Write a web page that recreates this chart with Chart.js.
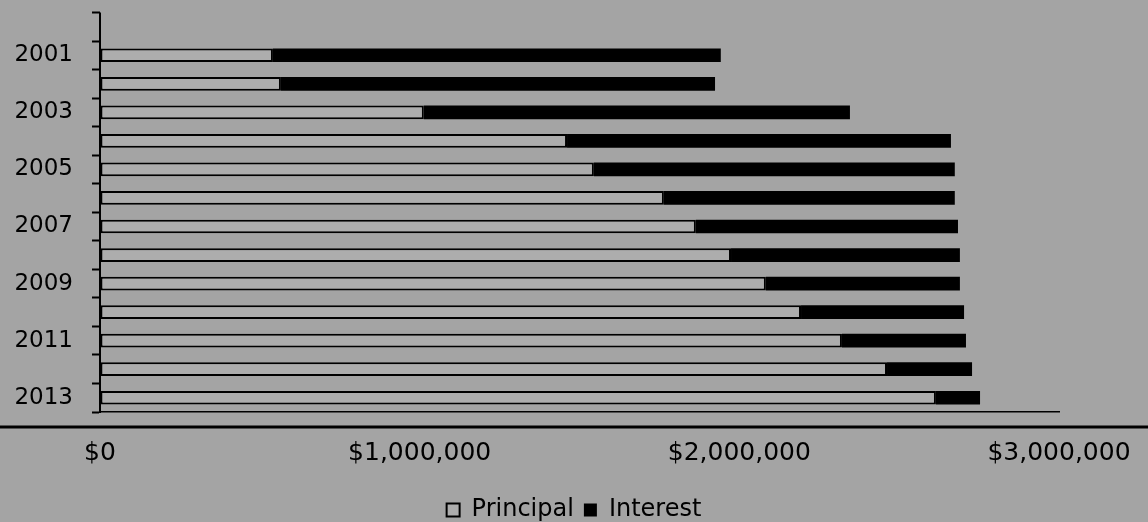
<!DOCTYPE html>
<html>
<head>
<meta charset="utf-8">
<script src="https://cdn.jsdelivr.net/npm/chart.js@4.4.1/dist/chart.umd.min.js"></script>
<style>
  html, body { margin: 0; padding: 0; background: #a4a4a4; }
  #c { display: block; }
</style>
</head>
<body>
<canvas id="c" width="1148" height="522"></canvas>
<script>
const years = ['2001','2002','2003','2004','2005','2006','2007','2008','2009','2010','2011','2012','2013'];
const principal = [541000, 566000, 1013000, 1461000, 1545000, 1764000, 1864000, 1974000, 2083000, 2193000, 2321000, 2462000, 2615000];
const interest  = [1401000, 1358000, 1333000, 1201000, 1129000, 910000, 820000, 716000, 607000, 510000, 388000, 266000, 138000];
const xTickValues = [0, 1000000, 2000000, 3000000];
const seriesNames = ['Principal', 'Interest'];

const BG = '#a4a4a4';
const FONT = 'DejaVu Sans';

const bgPlugin = {
  id: 'bg',
  afterLayout(chart) {
    const lg = chart.legend;
    if (lg) {
      lg.left = 0;
      lg.right = chart.width;
      const h = lg.bottom - lg.top;
      lg.top = chart.height - h + 10;
      lg.bottom = lg.top + h;
    }
  },
  beforeDraw(chart) {
    const ctx = chart.ctx;
    ctx.save();
    ctx.fillStyle = BG;
    ctx.fillRect(0, 0, chart.width, chart.height);
    ctx.restore();
  },
  afterDraw(chart) {
    const ctx = chart.ctx;
    const area = chart.chartArea;
    const y = chart.scales.y;
    const band = Math.abs(y.getPixelForValue(1) - y.getPixelForValue(0));
    ctx.save();
    ctx.strokeStyle = '#000';
    ctx.lineWidth = 2;
    ctx.beginPath();
    ctx.moveTo(area.left, area.top - band);
    ctx.lineTo(area.left, area.top);
    ctx.moveTo(area.left - 8, area.top - band);
    ctx.lineTo(area.left, area.top - band);
    ctx.stroke();
    ctx.lineWidth = 3;
    ctx.beginPath();
    ctx.moveTo(0, area.bottom + 15);
    ctx.lineTo(chart.width, area.bottom + 15);
    ctx.stroke();
    ctx.restore();
  }
};

new Chart(document.getElementById('c'), {
  type: 'bar',
  data: {
    labels: years,
    datasets: [
      { label: seriesNames[0], data: principal, backgroundColor: '#adadad', borderColor: '#000', borderWidth: 2, borderSkipped: false,
        barPercentage: 0.48, categoryPercentage: 1.0 },
      { label: seriesNames[1], data: interest, backgroundColor: '#000', borderColor: '#000', borderWidth: 0,
        barPercentage: 0.48, categoryPercentage: 1.0 }
    ]
  },
  options: {
    indexAxis: 'y',
    responsive: false,
    animation: false,
    devicePixelRatio: 1,
    layout: { padding: { left: 0, right: 89, top: 41, bottom: 0 } },
    plugins: {
      tooltip: { enabled: false },
      legend: {
        position: 'bottom',
        labels: {
          color: '#000',
          font: { family: FONT, size: 24 },
          boxWidth: 13, boxHeight: 13, padding: 10
        }
      }
    },
    scales: {
      x: {
        stacked: true,
        min: xTickValues[0],
        max: xTickValues[xTickValues.length - 1],
        afterBuildTicks: (s) => { s.ticks = xTickValues.map(v => ({ value: v })); },
        ticks: {
          color: '#000',
          font: { family: FONT, size: 25 },
          padding: 26,
          maxRotation: 0,
          callback: (v) => '$' + Number(v).toLocaleString('en-US')
        },
        grid: { display: true, drawOnChartArea: false, drawTicks: false },
        border: { display: true, color: '#000', width: 1.5 },
        afterFit: (s) => { s.height = 66; s.paddingLeft = 0; s.paddingRight = 0; }
      },
      y: {
        stacked: true,
        ticks: {
          color: '#000',
          font: { family: FONT, size: 23 },
          padding: 19,
          autoSkip: false,
          callback: (v, i) => (i % 2 === 0 ? years[i] : '')
        },
        grid: { display: true, drawOnChartArea: false, offset: true, tickLength: 8, tickWidth: 2, tickColor: '#000' },
        border: { display: true, color: '#000', width: 2 },
        afterFit: (s) => { s.width = 100; }
      }
    }
  },
  plugins: [bgPlugin]
});
</script>
</body>
</html>
